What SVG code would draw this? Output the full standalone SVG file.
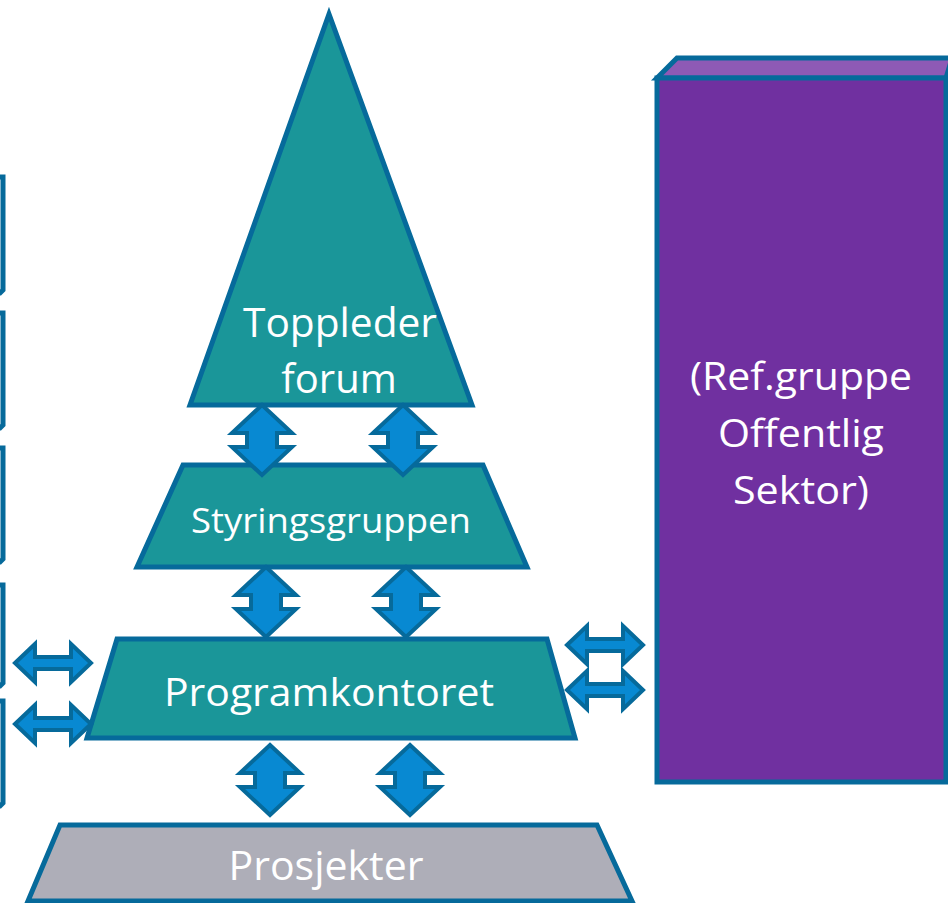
<svg xmlns="http://www.w3.org/2000/svg" width="948" height="903" viewBox="0 0 948 903">
<style>
.shape{stroke:#066A9B;stroke-width:5;stroke-linejoin:miter}
.teal{fill:#1A9699}
.lbl{font-family:"Open Sans","Liberation Sans",sans-serif;fill:#FFFFFF;text-anchor:middle}
.arr{fill:#0889D2;stroke:#066A9B;stroke-width:4;stroke-linejoin:miter}
</style>
<defs>
<path id="varr" d="M0,-35 L30,-7 L15,-7 L15,7 L30,7 L0,35 L-30,7 L-15,7 L-15,-7 L-30,-7 Z"/>
<path id="harr" d="M-38,0 L-18,-19 L-18,-6 L18,-6 L18,-19 L38,0 L18,19 L18,6 L-18,6 L-18,19 Z"/>
</defs>
<rect width="948" height="903" fill="#FFFFFF"/>
<g id="left-boxes">
<path class="shape" d="M-20,177 L3,177 L3,290 L0,293 L-20,293" fill="#FFFFFF"/>
<path class="shape" d="M-20,313 L3,313 L3,425 L0,428 L-20,428" fill="#FFFFFF"/>
<path class="shape" d="M-20,448 L3,448 L3,559 L0,562 L-20,562" fill="#FFFFFF"/>
<path class="shape" d="M-20,585 L3,585 L3,683 L0,686 L-20,686" fill="#FFFFFF"/>
<path class="shape" d="M-20,701 L3,701 L3,803 L0,806 L-20,806" fill="#FFFFFF"/>
</g>
<g id="referansegruppe">
<polygon points="657,78 677,58 952,58 946,78" fill="#8E5AB5" class="shape"/>
<rect x="657" y="78" width="289" height="704" fill="#7030A0" class="shape"/>
<text class="lbl" x="801" y="390" font-size="39" textLength="222" lengthAdjust="spacingAndGlyphs" fill="#F3ECF7">(Ref.gruppe</text>
<text class="lbl" x="801" y="447" font-size="39" textLength="166" lengthAdjust="spacingAndGlyphs">Offentlig</text>
<text class="lbl" x="801" y="504" font-size="39" textLength="136" lengthAdjust="spacingAndGlyphs">Sektor)</text>
</g>
<g id="toppleder-forum">
<polygon points="329,14 472,405 190,405" class="shape teal"/>
<text class="lbl" x="340" y="337" font-size="40" textLength="194" lengthAdjust="spacingAndGlyphs">Toppleder</text>
<text class="lbl" x="339" y="393" font-size="40">forum</text>
</g>
<g id="styringsgruppen">
<polygon points="183,465 483,465 527,567 137,567" class="shape teal"/>
<text class="lbl" x="331" y="533" font-size="34" textLength="280" lengthAdjust="spacingAndGlyphs">Styringsgruppen</text>
</g>
<g id="programkontoret">
<polygon points="117,639 547,639 575,738 87,738" class="shape teal"/>
<text class="lbl" x="329" y="706" font-size="39" textLength="330" lengthAdjust="spacingAndGlyphs">Programkontoret</text>
</g>
<g id="prosjekter">
<polygon points="60,825 597,825 632,901 28,901" class="shape" fill="#AEAEB8"/>
<text class="lbl" x="326" y="880" font-size="40" textLength="195" lengthAdjust="spacingAndGlyphs" fill="#F0F0F2">Prosjekter</text>
</g>
<g id="connectors">
<use href="#varr" class="arr" x="262" y="440"/>
<use href="#varr" class="arr" x="403" y="440"/>
<use href="#varr" class="arr" x="266" y="602"/>
<use href="#varr" class="arr" x="406" y="602"/>
<use href="#varr" class="arr" x="270" y="780"/>
<use href="#varr" class="arr" x="410" y="780"/>
<use href="#harr" class="arr" x="53" y="663"/>
<use href="#harr" class="arr" x="53" y="724"/>
<use href="#harr" class="arr" x="605" y="645"/>
<use href="#harr" class="arr" x="605" y="690"/>
</g>
</svg>
